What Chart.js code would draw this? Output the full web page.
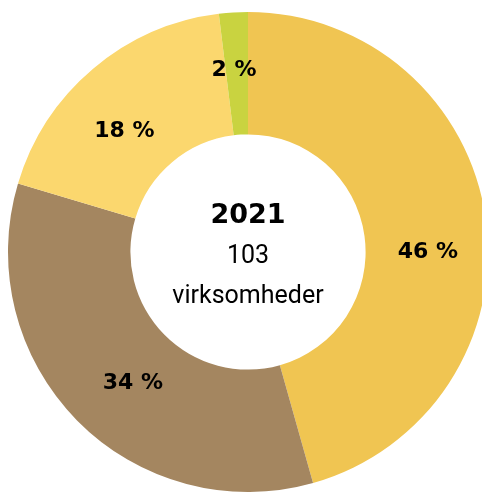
<!DOCTYPE html>
<html><head><meta charset="utf-8">
<script src="https://cdn.jsdelivr.net/npm/chart.js@4/dist/chart.umd.min.js"></script>
<style>
html,body{margin:0;padding:0;background:#fff;overflow:hidden;}
#wrap{position:absolute;left:0;top:0;width:496px;height:499px;}
</style></head><body>
<div id="wrap"><canvas id="c"></canvas></div>
<script>
const categories = ['A', 'B', 'C', 'D'];
const counts = [47, 35, 19, 2];
const percentLabels = ['46 %', '34 %', '18 %', '2 %'];
const colors = ['#F0C552', '#A48660', '#FBD76E', '#C9D340'];
const centerYear = '2021';
const centerCount = '103';
const centerUnit = 'virksomheder';
const labelAngleNudge = [0.13, -0.06, -0.09, -0.02];
const labelRadiusFrac = [1.0, 0.97, 0.98, 1.03];

const labelPlugin = {
  id: 'sliceLabels',
  afterDatasetsDraw(chart) {
    const ctx = chart.ctx;
    const meta = chart.getDatasetMeta(0);
    ctx.save();
    ctx.fillStyle = '#000';
    ctx.font = 'bold 22px "DejaVu Sans"';
    ctx.textAlign = 'center';
    ctx.textBaseline = 'middle';
    meta.data.forEach((arc, i) => {
      const p = arc.getProps(['x','y','startAngle','endAngle','innerRadius','outerRadius'], true);
      const a = (p.startAngle + p.endAngle) / 2 + labelAngleNudge[i];
      const r = (p.innerRadius + p.outerRadius) / 2 * labelRadiusFrac[i];
      ctx.fillText(percentLabels[i], p.x + 1 + Math.cos(a) * r, p.y + 2 + Math.sin(a) * r);
    });
    const a0 = meta.data[0];
    const cx = a0.x, cy = a0.y;
    ctx.font = 'bold 27px "DejaVu Sans"';
    ctx.fillText(centerYear, cx, cy - 36);
    ctx.font = '25px Roboto';
    ctx.fillText(centerCount, cx, cy + 5);
    ctx.fillText(centerUnit, cx, cy + 45);
    ctx.restore();
  }
};

new Chart(document.getElementById('c'), {
  type: 'doughnut',
  data: {
    labels: categories,
    datasets: [{ data: counts, backgroundColor: colors, borderWidth: 0, hoverOffset: 0 }]
  },
  options: {
    responsive: true,
    maintainAspectRatio: false,
    animation: false,
    cutout: '49%',
    rotation: 0,
    layout: { padding: { top: 12, bottom: 7, left: 8, right: 8 } },
    plugins: { legend: { display: false }, tooltip: { enabled: false } }
  },
  plugins: [labelPlugin]
});
</script>
</body></html>
